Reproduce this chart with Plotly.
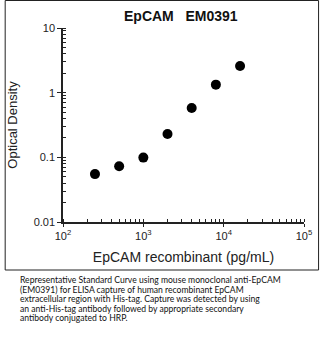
import plotly.graph_objects as go

conc = [250, 500, 1000, 2000, 4000, 8000, 16000]
od = [0.055, 0.073, 0.099, 0.23, 0.58, 1.33, 2.59]

x_tickvals = [100, 1000, 10000, 100000]
x_ticktext = ["10<sup>2</sup>", "10<sup>3</sup>", "10<sup>4</sup>", "10<sup>5</sup>"]
y_tickvals = [0.01, 0.1, 1, 10]
y_ticktext = ["0.01", "0.1", "1", "10"]

title = "EpCAM\u00a0\u00a0\u00a0EM0391"
caption = [
    "Representative Standard Curve using mouse monoclonal anti-EpCAM",
    "(EM0391) for ELISA capture of human recombinant EpCAM",
    "extracellular region with His-tag. Capture was detected by using",
    "an anti-His-tag antibody followed by appropriate secondary",
    "antibody conjugated to HRP.",
]

W, H = 324, 343
L, R, T, B = 60, 16, 28, 121
pw, ph = W - L - R, H - T - B

def px(xp):
    return (xp - L) / pw

def py(yp):
    return (H - B - yp) / ph

fig = go.Figure()
fig.add_trace(go.Scatter(x=conc, y=od, mode="markers",
                         marker=dict(color="black", size=10, symbol="circle")))

axis_font = dict(family="Liberation Sans, Arial, sans-serif", size=11, color="#222")
fig.update_xaxes(type="log", range=[2, 5], tickvals=x_tickvals, ticktext=x_ticktext,
                 showline=True, linecolor="#222", linewidth=1.5, showgrid=False,
                 zeroline=False, ticks="outside", ticklen=3, tickwidth=1.2,
                 tickcolor="#222", tickfont=axis_font,
                 minor=dict(ticks="inside", ticklen=3, tickcolor="#222", dtick="D1", showgrid=False),
                 title=dict(text="EpCAM recombinant (pg/mL)", standoff=11,
                            font=dict(family="Liberation Sans, Arial, sans-serif", size=14, color="#222")))
fig.update_yaxes(type="log", range=[-2, 1], tickvals=y_tickvals, ticktext=y_ticktext,
                 showline=True, linecolor="#222", linewidth=1.5, showgrid=False,
                 zeroline=False, ticks="outside", ticklen=4, tickwidth=1.2,
                 tickcolor="#222", tickfont=axis_font,
                 minor=dict(ticks="inside", ticklen=3, tickcolor="#222", dtick="D1", showgrid=False),
                 title=dict(text="Optical Density", standoff=13,
                            font=dict(family="Liberation Sans, Arial, sans-serif", size=13, color="#222")))

fig.add_annotation(text="<b>" + title + "</b>", xref="paper", yref="paper",
                   x=px(181), y=py(16), xanchor="center", yanchor="middle", showarrow=False,
                   font=dict(family="Liberation Sans, Arial, sans-serif", size=14, color="#111"))

for i, line in enumerate(caption):
    fig.add_annotation(text=line, xref="paper", yref="paper",
                       x=px(14), y=py(280 + i * 9.6), xanchor="left", yanchor="middle",
                       showarrow=False,
                       font=dict(family="Lato, Carlito, sans-serif", size=8.6, color="#111"))

fig.add_shape(type="rect", xref="paper", yref="paper",
              x0=px(0.5), x1=px(323), y0=py(270), y1=py(0.5),
              line=dict(color="#222", width=1))

fig.update_layout(width=W, height=H, margin=dict(l=L, r=R, t=T, b=B),
                  plot_bgcolor="white", paper_bgcolor="white", showlegend=False)

fig.write_html("out.html")
